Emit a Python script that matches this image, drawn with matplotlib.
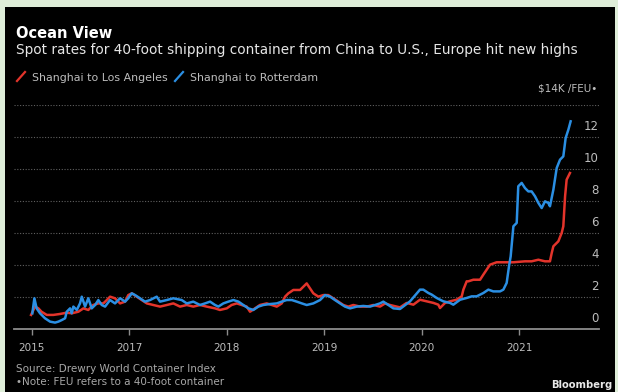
import matplotlib
matplotlib.use("Agg")
import matplotlib.pyplot as plt
from matplotlib.patches import Rectangle
from matplotlib.lines import Line2D

# values, $K per FEU, x in decimal years
rotterdam_years = [2016.006, 2016.027, 2016.05, 2016.085, 2016.136, 2016.188, 2016.239, 2016.273,
                   2016.308, 2016.342, 2016.359, 2016.393, 2016.41, 2016.427, 2016.462, 2016.495,
                   2016.513, 2016.547, 2016.58, 2016.615, 2016.65, 2016.683, 2016.718, 2016.752,
                   2016.803, 2016.854, 2016.906, 2016.957, 2016.99, 2017.026, 2017.06, 2017.11,
                   2017.162, 2017.213, 2017.282, 2017.316, 2017.385, 2017.452, 2017.538, 2017.59,
                   2017.657, 2017.726, 2017.777, 2017.829, 2017.88, 2017.914, 2017.965, 2018.016,
                   2018.068, 2018.12, 2018.17, 2018.222, 2018.273, 2018.324, 2018.375, 2018.444,
                   2018.513, 2018.564, 2018.615, 2018.667, 2018.718, 2018.77, 2018.82, 2018.888,
                   2018.957, 2019.008, 2019.06, 2019.11, 2019.162, 2019.213, 2019.265, 2019.333,
                   2019.40, 2019.47, 2019.572, 2019.606, 2019.658, 2019.709, 2019.777, 2019.88,
                   2019.982, 2020.016, 2020.068, 2020.102, 2020.153, 2020.221, 2020.29, 2020.324,
                   2020.393, 2020.461, 2020.512, 2020.563, 2020.632, 2020.683, 2020.734, 2020.803,
                   2020.837, 2020.871, 2020.895, 2020.912, 2020.94, 2020.974, 2020.99, 2021.025,
                   2021.059, 2021.093, 2021.127, 2021.162, 2021.196, 2021.23, 2021.264, 2021.298,
                   2021.315, 2021.35, 2021.384, 2021.418, 2021.452, 2021.476, 2021.504, 2021.527]
rotterdam_k = [0.98, 1.92, 1.29, 0.98, 0.67, 0.46, 0.40, 0.46,
               0.56, 0.67, 1.08, 1.29, 0.98, 1.40, 1.19, 1.60,
               2.02, 1.40, 1.92, 1.29, 1.50, 1.81, 1.50, 1.40,
               1.81, 1.60, 1.92, 1.71, 1.92, 2.23, 2.12, 1.92,
               1.71, 1.81, 2.02, 1.71, 1.81, 1.92, 1.81, 1.60,
               1.71, 1.50, 1.60, 1.71, 1.50, 1.40, 1.60, 1.71,
               1.81, 1.71, 1.50, 1.29, 1.19, 1.40, 1.50, 1.56,
               1.60, 1.71, 1.81, 1.81, 1.71, 1.60, 1.50, 1.60,
               1.81, 2.12, 2.02, 1.81, 1.60, 1.40, 1.29, 1.40,
               1.44, 1.40, 1.60, 1.71, 1.50, 1.29, 1.25, 1.73,
               2.46, 2.46, 2.25, 2.15, 1.94, 1.73, 1.63, 1.52,
               1.83, 1.94, 2.04, 2.04, 2.25, 2.46, 2.35, 2.35,
               2.46, 2.88, 3.92, 4.54, 6.42, 6.63, 8.92, 9.13,
               8.81, 8.60, 8.60, 8.29, 7.88, 7.56, 7.98, 7.88,
               7.67, 8.71, 10.06, 10.58, 10.79, 11.94, 12.46, 12.98]

la_years = [2015.993, 2016.034, 2016.068, 2016.10, 2016.154, 2016.222, 2016.29, 2016.359,
            2016.41, 2016.478, 2016.53, 2016.58, 2016.63, 2016.683, 2016.734, 2016.77,
            2016.803, 2016.854, 2016.906, 2016.957, 2016.99, 2017.026, 2017.077, 2017.128,
            2017.18, 2017.247, 2017.316, 2017.385, 2017.452, 2017.521, 2017.59, 2017.657,
            2017.726, 2017.795, 2017.88, 2017.93, 2018.0, 2018.05, 2018.103, 2018.154,
            2018.205, 2018.239, 2018.29, 2018.34, 2018.41, 2018.462, 2018.513, 2018.564,
            2018.598, 2018.632, 2018.683, 2018.752, 2018.82, 2018.888, 2018.94, 2018.99,
            2019.042, 2019.093, 2019.145, 2019.196, 2019.247, 2019.298, 2019.367, 2019.436,
            2019.504, 2019.572, 2019.624, 2019.675, 2019.777, 2019.845, 2019.914, 2019.982,
            2020.05, 2020.12, 2020.17, 2020.187, 2020.239, 2020.29, 2020.358, 2020.41,
            2020.427, 2020.461, 2020.478, 2020.529, 2020.598, 2020.632, 2020.666, 2020.70,
            2020.768, 2020.837, 2020.94, 2021.059, 2021.127, 2021.196, 2021.264, 2021.315,
            2021.333, 2021.35, 2021.401, 2021.435, 2021.452, 2021.47, 2021.486, 2021.52]
la_k = [0.88, 1.40, 1.29, 1.08, 0.88, 0.88, 0.94, 1.02,
        0.98, 1.08, 1.29, 1.19, 1.50, 1.60, 1.60, 1.81,
        2.02, 1.92, 1.60, 1.71, 2.12, 2.23, 2.02, 1.81,
        1.60, 1.50, 1.40, 1.50, 1.60, 1.40, 1.50, 1.40,
        1.50, 1.40, 1.29, 1.19, 1.29, 1.50, 1.60, 1.50,
        1.40, 1.08, 1.29, 1.50, 1.60, 1.50, 1.40, 1.60,
        2.02, 2.23, 2.44, 2.44, 2.85, 2.23, 2.02, 2.12,
        2.12, 1.92, 1.71, 1.50, 1.40, 1.50, 1.40, 1.40,
        1.50, 1.40, 1.60, 1.50, 1.35, 1.63, 1.52, 1.83,
        1.73, 1.63, 1.52, 1.31, 1.63, 1.73, 1.83, 2.04,
        2.46, 2.98, 2.98, 3.08, 3.08, 3.40, 3.71, 4.02,
        4.17, 4.17, 4.17, 4.23, 4.23, 4.33, 4.23, 4.23,
        4.75, 5.17, 5.48, 6.00, 6.42, 8.29, 9.33, 9.75]

# the source chart labels its first tick "2015"
tick_pos = [2016, 2017, 2018, 2019, 2020, 2021]
tick_labels = ["2015", "2017", "2018", "2019", "2020", "2021"]
y_ticks = [0, 2, 4, 6, 8, 10, 12]

W, H = 618, 392
red = "#e3342b"
blue = "#2b8fe3"
grey = "#bdbdbd"

fig = plt.figure(figsize=(W / 100, H / 100), dpi=100, facecolor="#dfeed9")
fig.patches.append(Rectangle((5 / W, 0), 610 / W, 1 - 7 / H, transform=fig.transFigure,
                             facecolor="black", edgecolor="none", zorder=0))

def fx(px):
    return px / W

def fy(py):
    return 1 - py / H

ax = fig.add_axes([fx(14), fy(329), 585 / W, 224 / H])
ax.set_zorder(5)
ax.patch.set_alpha(0)

ax.plot(la_years, la_k, color=red, lw=1.8, zorder=3)
ax.plot(rotterdam_years, rotterdam_k, color=blue, lw=1.8, zorder=4)

ax.set_xlim(2015.818, 2021.818)
ax.set_ylim(0, 14)

for v in range(2, 16, 2):
    ax.axhline(v, color="#606060", lw=0.8, ls=(0, (1, 1.5)), zorder=1)
ax.axhline(0, color="#8c8c8c", lw=1.3, zorder=2, clip_on=False)

for v in y_ticks:
    ax.annotate(str(v), (1, v), xycoords=("axes fraction", "data"),
                xytext=(0, 7.8), textcoords="offset points",
                ha="right", va="center", color=grey, fontsize=8.5)
ax.annotate("$14K /FEU•", (1, 14), xycoords=("axes fraction", "data"),
            xytext=(-1, 12), textcoords="offset points",
            ha="right", va="center", color=grey, fontsize=7.5)

for s in ax.spines.values():
    s.set_visible(False)
ax.set_yticks([])
ax.set_xticks(tick_pos)
ax.set_xticklabels(tick_labels)
ax.tick_params(axis="x", colors="#8c8c8c", length=4, width=1, pad=6,
               labelcolor=grey, labelsize=7.5)

# header
fig.text(fx(16), fy(38), "Ocean View", color="white", fontsize=10.5,
         fontweight="bold", va="baseline")
fig.text(fx(16), fy(54), "Spot rates for 40-foot shipping container from China to U.S., Europe hit new highs",
         color="#e6e6e6", fontsize=9.8, va="baseline")

fig.add_artist(Line2D([fx(17), fx(25)], [fy(81), fy(72)], color=red, lw=1.6))
fig.text(fx(32), fy(81), "Shanghai to Los Angeles", color=grey, fontsize=7.9, va="baseline")
fig.add_artist(Line2D([fx(175), fx(183)], [fy(81), fy(72)], color=blue, lw=1.6))
fig.text(fx(190), fy(81), "Shanghai to Rotterdam", color=grey, fontsize=7.9, va="baseline")

# footer
fig.text(fx(16), fy(372), "Source: Drewry World Container Index", color="#a8a8a8",
         fontsize=7.5, va="baseline")
fig.text(fx(16), fy(385), "•Note: FEU refers to a 40-foot container", color="#a8a8a8",
         fontsize=7.5, va="baseline")
fig.text(fx(612), fy(388), "Bloomberg", color="#e8e8e8", fontsize=7.2,
         fontweight="bold", ha="right", va="baseline")

fig.savefig("out.png", dpi=100, facecolor=fig.get_facecolor())
